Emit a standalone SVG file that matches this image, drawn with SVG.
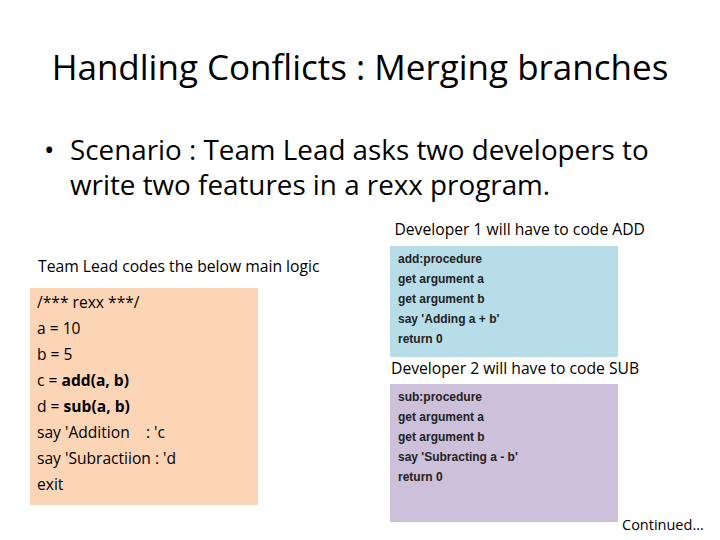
<svg xmlns="http://www.w3.org/2000/svg" width="720" height="540" viewBox="0 0 720 540">
<style>
text{font-family:"Open Sans","Liberation Sans",sans-serif;fill:#000}
.code{font-size:15.6px}
.small{font-size:12px;font-family:"Liberation Sans Narrow","Liberation Sans",sans-serif;font-weight:bold;fill:#222}
.lbl{font-size:15.7px}
</style>
<rect width="720" height="540" fill="#fff"/>
<text x="360" y="80" font-size="35" text-anchor="middle">Handling Conflicts : Merging branches</text>
<text x="44" y="160" font-size="27.8">•</text>
<text x="70" y="160" font-size="27.8">Scenario : Team Lead asks two developers to</text>
<text x="70" y="195" font-size="27.8">write two features in a rexx program.</text>
<text x="645" y="235" class="lbl" text-anchor="end">Developer 1 will have to code ADD</text>
<g id="main">
<text x="38" y="272" class="lbl">Team Lead codes the below main logic</text>
<rect x="30" y="288" width="228" height="217" fill="#fbd5b5"/>
<text x="37" y="308" class="code">/*** rexx ***/</text>
<text x="37" y="334" class="code">a = 10</text>
<text x="37" y="360" class="code">b = 5</text>
<text x="37" y="386" class="code">c = <tspan font-weight="bold">add(a, b)</tspan></text>
<text x="37" y="412" class="code">d = <tspan font-weight="bold">sub(a, b)</tspan></text>
<text x="37" y="438" class="code" xml:space="preserve">say 'Addition    : 'c</text>
<text x="37" y="464" class="code">say 'Subractiion : 'd</text>
<text x="37" y="490" class="code">exit</text>
</g>
<g id="add">
<rect x="390" y="246" width="228" height="111" fill="#b7dde8"/>
<text x="398" y="263" class="small">add:procedure</text>
<text x="398" y="283" class="small">get argument a</text>
<text x="398" y="303" class="small">get argument b</text>
<text x="398" y="323" class="small">say 'Adding a + b'</text>
<text x="398" y="343" class="small">return 0</text>
</g>
<text x="391" y="374" class="lbl">Developer 2 will have to code SUB</text>
<g id="sub">
<rect x="390" y="384" width="228" height="138" fill="#ccc0da"/>
<text x="398" y="401" class="small">sub:procedure</text>
<text x="398" y="421" class="small">get argument a</text>
<text x="398" y="441" class="small">get argument b</text>
<text x="398" y="461" class="small">say 'Subracting a - b'</text>
<text x="398" y="481" class="small">return 0</text>
</g>
<text x="622" y="530" font-size="14.5">Continued…</text>
</svg>
